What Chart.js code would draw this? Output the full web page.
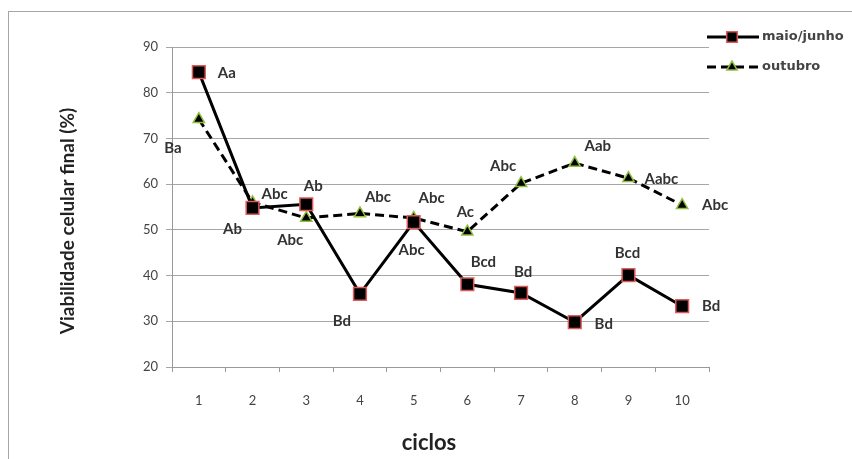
<!DOCTYPE html>
<html>
<head>
<meta charset="utf-8">
<script src="https://cdn.jsdelivr.net/npm/chart.js@4"></script>
<style>
  html, body { margin: 0; padding: 0; background: #fff; }
  #wrap { position: relative; width: 852px; height: 459px; overflow: hidden; }
  #frame { position: absolute; left: 8px; top: 11px; width: 900px; height: 500px;
           border-left: 1px solid #a6a6a6; border-top: 1px solid #a6a6a6; }
  canvas { position: absolute; left: 0; top: 0; }
</style>
</head>
<body>
<div id="wrap">
  <div id="frame"></div>
  <canvas id="c" width="852" height="459"></canvas>
</div>
<script>
// Cycles on the x axis
const ciclos = ['1', '2', '3', '4', '5', '6', '7', '8', '9', '10'];

// Final cell viability (%) per cycle
const maioJunho = [84.5, 54.8, 55.6, 36.0, 51.7, 38.1, 36.2, 29.8, 40.1, 33.3];
const outubro   = [74.2, 56.0, 52.6, 53.6, 52.6, 49.6, 60.2, 64.6, 61.3, 55.4];

// Significance letters shown beside each point
const letrasMaioJunho = ['Aa', 'Ab', 'Ab', 'Bd', 'Abc', 'Bcd', 'Bd', 'Bd', 'Bcd', 'Bd'];
const letrasOutubro   = ['Ba', 'Abc', 'Abc', 'Abc', 'Abc', 'Ac', 'Abc', 'Aab', 'Aabc', 'Abc'];

// Y axis range / steps
const yMin = 20, yMax = 90, yStep = 10;

// Pixel offsets of each letter from its point
const offMaio = [[28,1],[-20,21],[7,-18],[-18,27],[-2,28],[16,-22],[2,-21],[29,2],[-1,-22],[29,0]];
const offOut  = [[-26,29],[22,-8],[-16,22],[18,-16],[18,-20],[-2,-20],[-18,-17],[23,-17],[33,1],[33,0]];

const LABEL_FONT = 'bold 15px Lato';

function drawMarker(ctx, ds, x, y) {
  ctx.save();
  ctx.fillStyle = ds.pointBackgroundColor;
  ctx.strokeStyle = ds.pointBorderColor;
  ctx.lineWidth = ds.pointBorderWidth;
  ctx.setLineDash([]);
  Chart.helpers.drawPoint(ctx, {
    pointStyle: ds.pointStyle,
    radius: ds.legendRadius,
    borderWidth: ds.pointBorderWidth,
    rotation: 0
  }, x, y);
  ctx.restore();
}

const annotations = {
  id: 'annotations',
  afterDatasetsDraw(chart) {
    const ctx = chart.ctx;
    ctx.save();

    // letters next to the points
    ctx.font = LABEL_FONT;
    ctx.fillStyle = '#333';
    ctx.textAlign = 'center';
    ctx.textBaseline = 'middle';
    [[0, letrasMaioJunho, offMaio], [1, letrasOutubro, offOut]].forEach(([di, letters, offs]) => {
      chart.getDatasetMeta(di).data.forEach((pt, i) => {
        ctx.fillText(letters[i], pt.x + offs[i][0], pt.y + offs[i][1]);
      });
    });

    // axis titles
    ctx.fillStyle = '#222';
    ctx.font = 'bold 22px Lato';
    ctx.fillText('ciclos', 429, 443);
    ctx.save();
    ctx.translate(68, 221);
    ctx.rotate(-Math.PI / 2);
    ctx.font = 'bold 19px Lato';
    ctx.fillText('Viabilidade celular final (%)', 0, 0);
    ctx.restore();

    // legend
    const items = [
      { ds: chart.data.datasets[0], y: 37 },
      { ds: chart.data.datasets[1], y: 67 }
    ];
    items.forEach(it => {
      const ds = it.ds;
      ctx.save();
      ctx.strokeStyle = ds.borderColor;
      ctx.lineWidth = ds.borderWidth;
      ctx.setLineDash(ds.borderDash || []);
      ctx.beginPath();
      ctx.moveTo(707, it.y);
      ctx.lineTo(759, it.y);
      ctx.stroke();
      ctx.restore();
      drawMarker(ctx, ds, 732, it.y);
      ctx.fillStyle = '#444';
      ctx.font = 'bold 13px "DejaVu Sans"';
      ctx.textAlign = 'left';
      ctx.fillText(ds.label, 762, it.y);
    });
    ctx.restore();
  }
};

new Chart(document.getElementById('c'), {
  type: 'line',
  data: {
    labels: ciclos,
    datasets: [
      {
        label: 'maio/junho',
        data: maioJunho,
        borderColor: '#000',
        borderWidth: 3,
        pointStyle: 'rect',
        pointRadius: 9,
        legendRadius: 7.5,
        pointBackgroundColor: '#000',
        pointBorderColor: '#e05a5a',
        pointBorderWidth: 1.5,
        tension: 0
      },
      {
        label: 'outubro',
        data: outubro,
        borderColor: '#000',
        borderWidth: 3,
        borderDash: [9, 5],
        pointStyle: 'triangle',
        pointRadius: 6.5,
        legendRadius: 6,
        pointBackgroundColor: '#000',
        pointBorderColor: '#8fbf3f',
        pointBorderWidth: 1.5,
        tension: 0
      }
    ]
  },
  options: {
    responsive: false,
    animation: false,
    devicePixelRatio: 1,
    layout: { padding: { left: 0, right: 143, top: 47, bottom: 0 } },
    plugins: { legend: { display: false }, tooltip: { enabled: false } },
    scales: {
      x: {
        type: 'category',
        offset: true,
        afterFit(scale) { scale.height = 92; },
        grid: { offset: true, drawOnChartArea: false, drawTicks: true, tickLength: 5, color: '#999' },
        border: { display: true, color: '#999', width: 1 },
        ticks: { color: '#444', font: { family: 'Lato', size: 13 }, padding: 21, maxRotation: 0 }
      },
      y: {
        min: yMin,
        max: yMax,
        afterFit(scale) { scale.width = 172; },
        grid: { color: '#a6a6a6', lineWidth: 1, tickLength: 6, drawTicks: true },
        border: { display: true, color: '#999', width: 1 },
        ticks: { stepSize: yStep, color: '#444', font: { family: 'Lato', size: 13 }, padding: 8 }
      }
    }
  },
  plugins: [annotations]
});
</script>
</body>
</html>
